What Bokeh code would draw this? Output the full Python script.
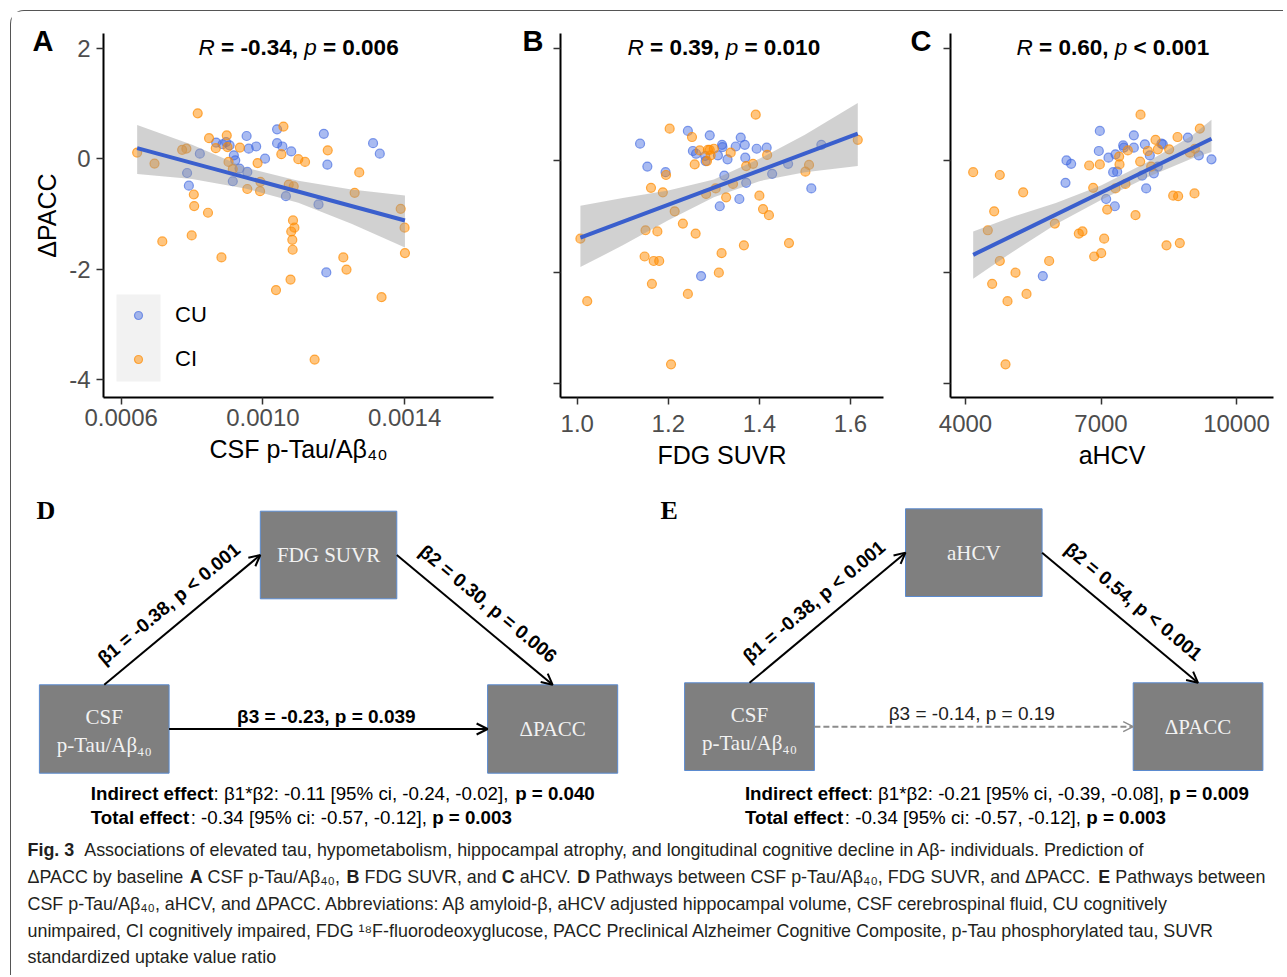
import math
from bokeh.plotting import figure
from bokeh.models import (Range1d, FixedTicker, CustomJSTickFormatter, Label, Legend,
                          LegendItem, BoxAnnotation, Arrow, OpenHead)
from bokeh.layouts import row, column
from bokeh.embed import file_html
from bokeh.resources import INLINE
from bokeh.core.properties import value

# ---------------- data ----------------
A_cu_x = [0.000786, 0.000791, 0.000822, 0.000868, 0.000886, 0.000896, 0.000906, 0.000918, 0.000922,
          0.000915, 0.000934, 0.000954, 0.000956, 0.000960, 0.000981, 0.001006, 0.001040, 0.001040,
          0.001055, 0.001080, 0.001065, 0.001157, 0.001172, 0.001182, 0.001179, 0.001311, 0.001330]
A_cu_y = [-0.26, -0.49, 0.09, 0.29, 0.26, 0.30, 0.24, 0.06, -0.03, -0.41, -0.18, 0.41, -0.24, 0.18,
          0.22, 0.00, 0.53, 0.28, 0.22, 0.13, -0.68, -0.83, 0.45, -0.11, -2.06, 0.28, 0.09]
A_ci_x = [0.000645, 0.000694, 0.000716, 0.000772, 0.000784, 0.000816, 0.000805, 0.000806, 0.000799,
          0.000845, 0.000848, 0.000867, 0.000898, 0.000900, 0.000883, 0.000903, 0.000915, 0.000935,
          0.000956, 0.000985, 0.000993, 0.000992, 0.001037, 0.001052, 0.001058, 0.001073, 0.001087,
          0.001085, 0.001080, 0.001089, 0.001083, 0.001084, 0.001078, 0.001100, 0.001119, 0.001146,
          0.001183, 0.001227, 0.001236, 0.001259, 0.001272, 0.001335, 0.001389, 0.001400, 0.001401]
A_ci_y = [0.11, -0.09, -1.50, 0.16, 0.18, 0.82, -0.65, -0.86, -1.39, -0.98, 0.37, 0.19, 0.42, 0.21,
          -1.79, -0.06, -0.19, 0.20, -0.55, -0.08, -0.42, -0.59, -2.38, 0.08, 0.58, -0.47, -0.50,
          -1.12, -1.32, -1.25, -1.47, -1.65, -2.19, -0.01, -0.06, -3.64, 0.15, -1.79, -2.01, -0.62,
          -0.25, -2.51, -0.91, -1.25, -1.71]
A_fit_x = [0.000645, 0.001401]
A_fit_y = [0.19, -1.12]
A_band_x = [0.000645, 0.00080, 0.00095, 0.00110, 0.00125, 0.001401]
A_band_hi = [0.61, 0.25, -0.16, -0.40, -0.56, -0.67]
A_band_lo = [-0.28, -0.37, -0.54, -0.80, -1.18, -1.61]

B_cu_x = [1.138, 1.154, 1.194, 1.243, 1.254, 1.261, 1.281, 1.282, 1.291, 1.309, 1.318, 1.319, 1.330,
          1.348, 1.359, 1.368, 1.369, 1.394, 1.416, 1.323, 1.371, 1.356, 1.313, 1.272, 1.428, 1.463,
          1.514, 1.536]
B_cu_y = [0.30, -0.11, -0.21, 0.53, 0.17, 0.12, 0.08, -0.01, 0.45, 0.09, 0.28, 0.24, 0.02, 0.25, 0.41,
          0.28, 0.05, 0.21, 0.23, -0.27, -0.40, -0.69, -0.82, -2.07, -0.24, -0.06, -0.50, 0.28]
B_ci_x = [1.007, 1.022, 1.203, 1.252, 1.269, 1.287, 1.291, 1.300, 1.285, 1.293, 1.258, 1.337, 1.195,
          1.162, 1.188, 1.214, 1.232, 1.150, 1.176, 1.260, 1.148, 1.168, 1.180, 1.164, 1.243, 1.206,
          1.283, 1.304, 1.327, 1.342, 1.311, 1.317, 1.366, 1.371, 1.386, 1.392, 1.400, 1.408, 1.421,
          1.417, 1.465, 1.501, 1.509, 1.616]
B_ci_y = [-1.40, -2.52, 0.57, 0.42, 0.18, 0.19, 0.19, 0.21, -0.01, 0.09, -0.07, 0.14, -0.26, -0.49,
          -0.57, -0.91, -1.13, -1.25, -1.27, -1.31, -1.72, -1.80, -1.80, -2.21, -2.39, -3.65, -0.60,
          -0.50, -0.66, -0.42, -2.01, -1.66, -1.52, -0.10, -0.06, 0.82, -0.63, -0.87, -0.98, 0.10,
          -1.48, -0.20, -0.08, 0.37]
B_fit_x = [1.007, 1.616]
B_fit_y = [-1.38, 0.48]
B_band_x = [1.007, 1.10, 1.20, 1.30, 1.40, 1.50, 1.616]
B_band_hi = [-0.81, -0.67, -0.54, -0.34, 0.03, 0.46, 1.03]
B_band_lo = [-1.91, -1.52, -1.07, -0.66, -0.37, -0.21, -0.10]

C_cu_x = [5712, 6214, 6236, 6339, 6974, 6952, 7166, 7114, 7306, 7269, 7358, 7321, 7491, 7506, 7727,
          7727, 7971, 8081, 7911, 8000, 8170, 8258, 8339, 8369, 8923, 9166, 9446]
C_cu_y = [-2.07, -0.40, 0.00, -0.06, 0.53, 0.17, 0.05, -0.69, -0.82, -0.21, -0.20, 0.11, 0.27, 0.23,
          0.45, 0.23, 0.29, 0.09, -0.27, -0.50, -0.23, -0.11, 0.30, 0.29, 0.41, 0.09, 0.02]
C_ci_x = [4170, 4760, 5277, 4635, 4494, 4760, 4590, 4930, 5107, 5351, 4886, 5852, 5978, 6509, 6590,
          6849, 7004, 7070, 7137, 6738, 6974, 6827, 7321, 7542, 7410, 7402, 7594, 7875, 7867, 8037,
          8111, 7764, 8207, 8258, 8509, 8598, 8708, 8450, 8745, 8694, 8967, 9078, 9070, 9188]
C_ci_y = [-0.21, -0.26, -0.57, -0.91, -1.25, -1.80, -2.21, -2.52, -2.01, -2.39, -3.65, -1.80, -1.13,
          -1.31, -1.27, -1.72, -1.66, -1.40, -0.88, -0.09, -0.07, -0.49, -0.50, -0.42, -0.07, 0.07,
          0.18, 0.82, -0.02, 0.17, -0.11, -0.98, 0.37, 0.20, 0.20, -0.63, -0.64, -1.52, -1.48, 0.42,
          0.14, 0.21, -0.59, 0.57]
C_fit_x = [4170, 9446]
C_fit_y = [-1.69, 0.39]
C_band_x = [4170, 5000, 6000, 7000, 8000, 9000, 9446]
C_band_hi = [-1.27, -1.02, -0.76, -0.45, -0.04, 0.44, 0.73]
C_band_lo = [-2.12, -1.66, -1.14, -0.71, -0.31, 0.03, 0.15]

y_ticks = [-4, -2, 0, 2]
A_x_ticks = [0.0006, 0.0010, 0.0014]
B_x_ticks = [1.0, 1.2, 1.4, 1.6]
C_x_ticks = [4000, 7000, 10000]
groups = ["CU", "CI"]
titles = [
    [("R", "italic"), (" = -0.34, ", "bold"), ("p", "italic"), (" = 0.006", "bold")],
    [("R", "italic"), (" = 0.39, ", "bold"), ("p", "italic"), (" = 0.010", "bold")],
    [("R", "italic"), (" = 0.60, ", "bold"), ("p", "italic"), (" < 0.001", "bold")],
]

# mediation diagrams
D_boxes = {"med": "FDG SUVR", "beta1": "β1 = -0.38, p < 0.001", "beta2": "β2 = 0.30, p = 0.006",
           "beta3": "β3 = -0.23, p = 0.039", "beta3_sig": True,
           "ind": [("Indirect effect", True), (": β1*β2: -0.11 [95% ci, -0.24, -0.02], ", False), ("p = 0.040", True)],
           "tot": [("Total effect", True), (": -0.34 [95% ci: -0.57, -0.12], ", False), ("p = 0.003", True)]}
E_boxes = {"med": "aHCV", "beta1": "β1 = -0.38, p < 0.001", "beta2": "β2 = 0.54, p < 0.001",
           "beta3": "β3 = -0.14, p = 0.19", "beta3_sig": False,
           "ind": [("Indirect effect", True), (": β1*β2: -0.21 [95% ci, -0.39, -0.08], ", False), ("p = 0.009", True)],
           "tot": [("Total effect", True), (": -0.34 [95% ci: -0.57, -0.12], ", False), ("p = 0.003", True)]}

caption = [
    [("Fig. 3", True), ("  Associations of elevated tau, hypometabolism, hippocampal atrophy, and longitudinal cognitive decline in Aβ- individuals. Prediction of", False)],
    [("ΔPACC by baseline ", False), ("A", True), (" CSF p-Tau/Aβ₄₀, ", False), ("B", True), (" FDG SUVR, and ", False),
     ("C", True), (" aHCV. ", False), ("D", True), (" Pathways between CSF p-Tau/Aβ₄₀, FDG SUVR, and ΔPACC. ", False),
     ("E", True), (" Pathways between", False)],
    [("CSF p-Tau/Aβ₄₀, aHCV, and ΔPACC. Abbreviations: Aβ amyloid-β, aHCV adjusted hippocampal volume, CSF cerebrospinal fluid, CU cognitively", False)],
    [("unimpaired, CI cognitively impaired, FDG ¹⁸F-fluorodeoxyglucose, PACC Preclinical Alzheimer Cognitive Composite, p-Tau phosphorylated tau, SUVR", False)],
    [("standardized uptake value ratio", False)],
]
caption_line_ends = [1237, 1265, 1218, 1276]

# ---------------- text width helper (Arial / Liberation Sans metrics) ----------------
AR = dict(zip(" !\"#$%&'()*+,-./", [278, 278, 355, 556, 556, 889, 667, 191, 333, 333, 389, 584, 278, 333, 278, 278]))
for d in "0123456789":
    AR[d] = 556
AR.update({':': 278, ';': 278, '<': 584, '=': 584, '>': 584, '?': 556, '[': 278, ']': 278})
AR.update(dict(zip("ABCDEFGHIJKLMNOPQRSTUVWXYZ", [667, 667, 722, 722, 667, 611, 778, 722, 278, 500, 667, 556, 833,
                                                  722, 778, 667, 778, 722, 667, 611, 722, 667, 944, 667, 667, 611])))
AR.update(dict(zip("abcdefghijklmnopqrstuvwxyz", [556, 556, 500, 556, 556, 278, 556, 556, 222, 222, 500, 222, 833,
                                                  556, 556, 556, 556, 333, 500, 278, 556, 500, 722, 500, 500, 500])))
AR.update({'Δ': 668, 'β': 575, '₄': 400, '₀': 400, '¹': 333, '⁸': 400})
AB = dict(AR)
AB.update({'!': 333, ':': 333, ';': 333, '[': 333, ']': 333})
AB.update(dict(zip("ABCDEFGHIJKLMNOPQRSTUVWXYZ", [722, 722, 722, 722, 667, 611, 778, 722, 278, 556, 722, 611, 833,
                                                  722, 778, 667, 778, 722, 667, 611, 722, 667, 944, 667, 667, 611])))
AB.update(dict(zip("abcdefghijklmnopqrstuvwxyz", [556, 611, 556, 611, 556, 333, 611, 611, 278, 278, 556, 278, 889,
                                                  611, 611, 611, 611, 389, 556, 333, 611, 556, 778, 556, 556, 500])))


def tw(s, bold=False):
    t = AB if bold else AR
    return sum(t.get(c, 556) for c in s) / 1000.0


SANS = "Liberation Sans"
SERIF = "Liberation Serif"
BLUE = "#4169E1"
ORANGE = "#FF8C00"
FIT = "#3A5FCD"

OX, OY = 11, 11          # page position of the layout's content (after margin + border)
ROW_BOTTOM = 495
ROW_H = ROW_BOTTOM - OY
FRAME_TOP, FRAME_BOTTOM = 33, 397


# ---------------- scatter panels ----------------
def make_panel(fig_left, width, frame, xr, yr, cu, ci, fit, band, xticks, xfmt, xlabel, show_y,
               letter, letter_x, title_pieces, title_x, standoffs, legend=False):
    fl, fr = frame
    ft, fb = FRAME_TOP, FRAME_BOTTOM
    p = figure(width=width, height=ROW_H, x_range=Range1d(*xr), y_range=Range1d(*yr),
               output_backend="svg", toolbar_location=None, tools="",
               min_border_left=fl - fig_left, min_border_right=fig_left + width - fr,
               min_border_top=ft - OY, min_border_bottom=OY + ROW_H - fb)
    p.outline_line_color = None
    p.grid.visible = False
    p.background_fill_color = "white"
    p.border_fill_color = "white"

    def dx(X):
        return xr[0] + (X - fl) / (fr - fl) * (xr[1] - xr[0])

    def dy(Y):
        return yr[1] - (Y - ft) / (fb - ft) * (yr[1] - yr[0])

    if legend:
        p.add_layout(BoxAnnotation(left=dx(116), right=dx(160), top=dy(294), bottom=dy(381),
                                   fill_color="#F2F2F2", fill_alpha=1.0, line_color=None, level="underlay"))

    r_cu = p.scatter(cu[0], cu[1], size=9, marker="circle", fill_color=BLUE, fill_alpha=0.45,
                     line_color=BLUE, line_alpha=0.65, line_width=1.2)
    r_ci = p.scatter(ci[0], ci[1], size=9, marker="circle", fill_color=ORANGE, fill_alpha=0.5,
                     line_color=ORANGE, line_alpha=0.7, line_width=1.2)
    p.varea(x=band[0], y1=band[2], y2=band[1], fill_color="#999999", fill_alpha=0.45)
    p.line(fit[0], fit[1], line_color=FIT, line_width=4)

    xa = p.xaxis[0]
    ya = p.yaxis[0]
    for ax in (xa, ya):
        ax.axis_line_width = 2
        ax.axis_line_color = "black"
        ax.major_tick_line_color = "#333333"
        ax.major_tick_line_width = 1.5
        ax.major_tick_out = 7
        ax.major_tick_in = 0
        ax.minor_tick_line_color = None
        ax.major_label_text_font = SANS
        ax.major_label_text_font_size = "24px"
        ax.major_label_text_color = "#4D4D4D"
        ax.axis_label_text_font = SANS
        ax.axis_label_text_font_size = "25px"
        ax.axis_label_text_font_style = "normal"
        ax.axis_label_text_color = "black"
    xa.ticker = FixedTicker(ticks=xticks)
    xa.formatter = CustomJSTickFormatter(code=xfmt)
    xa.major_label_standoff = standoffs[0]
    xa.axis_label = xlabel
    xa.axis_label_standoff = standoffs[1]
    ya.ticker = FixedTicker(ticks=y_ticks)
    if show_y:
        ya.formatter = CustomJSTickFormatter(code="return tick.toFixed(0);")
        ya.major_label_standoff = 6
        ya.axis_label = "ΔPACC"
        ya.axis_label_standoff = 5
    else:
        ya.formatter = CustomJSTickFormatter(code="return '';")
        ya.major_label_standoff = 0

    if legend:
        lg = Legend(items=[LegendItem(label=groups[0], renderers=[r_cu]),
                           LegendItem(label=groups[1], renderers=[r_ci])],
                    location="bottom_left", margin=13, padding=12, spacing=18,
                    glyph_width=20, glyph_height=26, label_height=26, label_standoff=27,
                    label_text_font=SANS, label_text_font_size="22px", label_text_color="black",
                    background_fill_alpha=0, border_line_alpha=0)
        p.add_layout(lg)

    # panel letter: figure title pulled down beside the top of the y axis
    p.title.text = letter
    p.title.text_font = SANS
    p.title.text_font_size = "29px"
    p.title.text_font_style = "bold"
    p.title.text_color = "black"
    p.title.align = "left"
    p.title.offset = letter_x - fl
    p.title.vertical_align = "bottom"
    p.title.standoff = -46

    # R / p annotation
    size = 22.5
    x = title_x
    for txt, style in title_pieces:
        lead = len(txt) - len(txt.lstrip(" "))
        core = txt.strip(" ")
        bold = style == "bold"
        xs = x + tw(" " * lead, bold) * size
        p.add_layout(Label(x=dx(xs), y=dy(47), text=core, text_font=SANS, text_font_size=f"{size}px",
                           text_font_style=style, text_color="black", text_align="left",
                           text_baseline="middle"))
        x += tw(txt, bold) * size
    return p


pA = make_panel(OX, 505 - OX, (103, 493), (0.00055, 0.001651), (-4.326, 2.266),
                (A_cu_x, A_cu_y), (A_ci_x, A_ci_y), (A_fit_x, A_fit_y), (A_band_x, A_band_lo, A_band_hi),
                A_x_ticks, "return tick.toFixed(4);", "CSF p-Tau/Aβ₄₀", True, "A", 32, titles[0], 198,
                (4, 6), legend=True)
pB = make_panel(505, 388, (560, 883), (0.9633, 1.6725), (-4.245, 2.274),
                (B_cu_x, B_cu_y), (B_ci_x, B_ci_y), (B_fit_x, B_fit_y), (B_band_x, B_band_lo, B_band_hi),
                B_x_ticks, "return tick.toFixed(1);", "FDG SUVR", False, "B", 522, titles[1], 627, (10, 6))
pC = make_panel(893, 390, (950, 1273), (3668, 10819), (-4.245, 2.274),
                (C_cu_x, C_cu_y), (C_ci_x, C_ci_y), (C_fit_x, C_fit_y), (C_band_x, C_band_lo, C_band_hi),
                C_x_ticks, "return tick.toFixed(0);", "aHCV", False, "C", 910, titles[2], 1016, (10, 6))

# ---------------- bottom: diagrams + caption ----------------
RIGHT = 1283
BOT_BOTTOM = 975
W = RIGHT - OX
BOT_H = BOT_BOTTOM - ROW_BOTTOM
pb = figure(width=W, height=BOT_H, x_range=Range1d(OX, RIGHT), y_range=Range1d(BOT_BOTTOM, ROW_BOTTOM),
            output_backend="svg", toolbar_location=None, tools="", x_axis_location=None,
            y_axis_location=None, min_border=0)
pb.outline_line_color = None
pb.grid.visible = False


def put_run(x0, y, pieces, size, font=SANS, color="black"):
    x = x0
    for txt, bold in pieces:
        lead = len(txt) - len(txt.lstrip(" "))
        core = txt.strip(" ")
        xs = x + tw(" " * lead, bold) * size
        if core:
            pb.text(x=[xs], y=[y], text=[core], text_font=value(font), text_font_size=f"{size:.2f}px",
                    text_font_style="bold" if bold else "normal", text_color=color,
                    text_align="left", text_baseline="middle")
        x += tw(txt, bold) * size
    return x


# layout of the two diagrams (reference pixel positions)
diagrams = [
    dict(spec=D_boxes, letter="D", letter_x=36,
         src=(38.9, 168.6, 684.3, 772.7), med=(259.8, 396.3, 510.7, 598.3), out=(487.1, 617.2, 684.3, 772.7),
         eff_x=90.3),
    dict(spec=E_boxes, letter="E", letter_x=660,
         src=(684.1, 813.9, 682.3, 770.0), med=(905.0, 1041.6, 508.3, 596.0), out=(1132.7, 1262.4, 682.3, 770.0),
         eff_x=744.4),
]
eff_em = sum(tw(t, b) for t, b in D_boxes["ind"])
EFF_SIZE = 504.0 / eff_em
LAB_SIZE = 19

for dg in diagrams:
    spec = dg["spec"]
    s, m, o = dg["src"], dg["med"], dg["out"]
    pb.text(x=[dg["letter_x"]], y=[510], text=[dg["letter"]], text_font=value(SERIF), text_font_size="26px",
            text_font_style="bold", text_color="black", text_align="left", text_baseline="middle")
    pb.quad(left=[s[0], m[0], o[0]], right=[s[1], m[1], o[1]], top=[s[2], m[2], o[2]],
            bottom=[s[3], m[3], o[3]], fill_color="#7F7F7F", line_color="#5B8BD0", line_width=1)
    # box texts
    scx = (s[0] + s[1]) / 2
    scy = (s[2] + s[3]) / 2
    pb.text(x=[scx, scx], y=[scy - 12, scy + 16], text=["CSF", "p-Tau/Aβ₄₀"], text_font=value(SERIF),
            text_font_size="21px", text_color="#F2F2F2", text_align="center", text_baseline="middle")
    pb.text(x=[(m[0] + m[1]) / 2], y=[(m[2] + m[3]) / 2], text=[spec["med"]], text_font=value(SERIF),
            text_font_size="21px", text_color="#F2F2F2", text_align="center", text_baseline="middle")
    pb.text(x=[(o[0] + o[1]) / 2], y=[(o[2] + o[3]) / 2], text=["ΔPACC"], text_font=value(SERIF),
            text_font_size="21px", text_color="#F2F2F2", text_align="center", text_baseline="middle")
    # arrows
    a1 = (s[0] + (s[1] - s[0]) * 0.5, s[2], m[0], (m[2] + m[3]) / 2)
    a2 = (m[1], (m[2] + m[3]) / 2, o[0] + (o[1] - o[0]) * 0.5, o[2])
    for (x0, y0, x1, y1) in (a1, a2):
        pb.add_layout(Arrow(x_start=x0, y_start=y0, x_end=x1, y_end=y1, line_color="black", line_width=2,
                            end=OpenHead(size=11, line_width=2, line_color="black")))
    y3 = (s[2] + s[3]) / 2
    if spec["beta3_sig"]:
        pb.add_layout(Arrow(x_start=s[1], y_start=y3, x_end=o[0], y_end=y3, line_color="black", line_width=2,
                            end=OpenHead(size=11, line_width=2, line_color="black")))
    else:
        pb.add_layout(Arrow(x_start=s[1], y_start=y3, x_end=o[0], y_end=y3, line_color="#8C8C8C",
                            line_width=2, line_dash="6 3",
                            end=OpenHead(size=10, line_width=1.5, line_color="#8C8C8C")))
    # beta labels on the slanted arrows (offset to the upper side of each arrow)
    for (x0, y0, x1, y1), txt in ((a1, spec["beta1"]), (a2, spec["beta2"])):
        ddx, ddy = x1 - x0, y1 - y0
        ln = math.hypot(ddx, ddy)
        ang = math.atan2(-ddy, ddx)
        nx, ny = ddy / ln, -ddx / ln
        if ny > 0:
            nx, ny = -nx, -ny
        cx = (x0 + x1) / 2 + nx * 21
        cy = (y0 + y1) / 2 + ny * 21
        pb.text(x=[cx], y=[cy], text=[txt], angle=ang, text_font=value(SANS), text_font_size=f"{LAB_SIZE}px",
                text_font_style="bold", text_color="black", text_align="center", text_baseline="middle")
    pb.text(x=[(s[1] + o[0]) / 2 - 2], y=[y3 - 13], text=[spec["beta3"]], text_font=value(SANS),
            text_font_size=f"{LAB_SIZE}px", text_font_style="bold" if spec["beta3_sig"] else "normal",
            text_color="black" if spec["beta3_sig"] else "#222222", text_align="center",
            text_baseline="middle")
    put_run(dg["eff_x"], 793.3, spec["ind"], EFF_SIZE)
    put_run(dg["eff_x"], 817.3, spec["tot"], EFF_SIZE)

# caption: one font size that keeps every line inside its reference extent
CAP_X = 27
CAP_SIZE = min((end - CAP_X) / sum(tw(t, b) for t, b in line)
               for line, end in zip(caption, caption_line_ends))
cap_y = [849, 876, 903, 930, 956]
for line, yy in zip(caption, cap_y):
    put_run(CAP_X, yy, line, CAP_SIZE, color="#231F20")

layout = column(row(pA, pB, pC), pb,
                styles={"margin-left": "10px", "margin-top": "10px",
                        "border-top": "1px solid #555555", "border-left": "1px solid #555555",
                        "border-top-left-radius": "14px"})

open("out.html", "w").write(file_html(layout, INLINE))
